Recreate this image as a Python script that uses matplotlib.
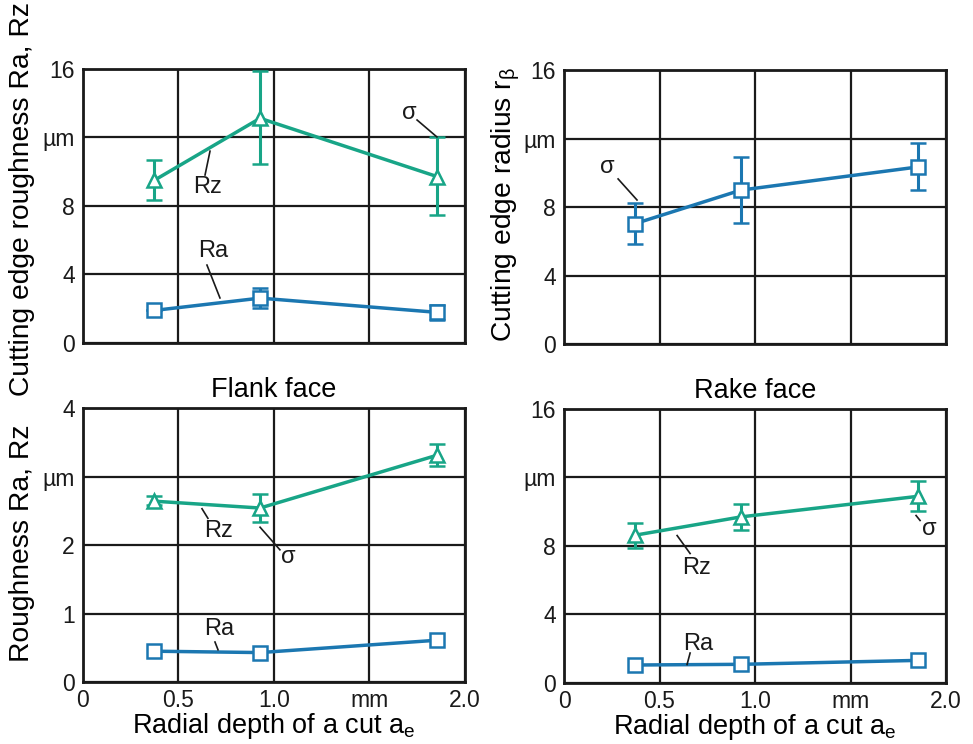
import matplotlib.pyplot as plt

plt.rcParams['font.family'] = ['Liberation Sans', 'DejaVu Sans']

GREEN = '#18a587'
BLUE = '#1b77b1'

# radial depth of cut (mm)
ae = [0.372, 0.927, 1.853]

# top left: cutting edge roughness
edge_rz = [9.49, 13.12, 9.72]
edge_rz_lo = [8.32, 10.44, 7.45]
edge_rz_hi = [10.69, 15.9, 12.01]
edge_ra = [1.9, 2.62, 1.79]
edge_ra_lo = [1.9, 2.04, 1.34]
edge_ra_hi = [1.9, 3.23, 2.22]

# top right: cutting edge radius
radius = [7.03, 8.99, 10.34]
radius_lo = [5.82, 7.07, 8.99]
radius_hi = [8.23, 10.94, 11.72]

# bottom left: flank face
flank_rz = [2.64, 2.54, 3.31]
flank_rz_lo = [2.58, 2.34, 3.15]
flank_rz_hi = [2.71, 2.75, 3.48]
flank_ra = [0.45, 0.43, 0.61]

# bottom right: rake face
rake_rz = [8.63, 9.70, 10.9]
rake_rz_lo = [7.87, 8.96, 10.05]
rake_rz_hi = [9.37, 10.43, 11.79]
rake_ra = [1.05, 1.09, 1.32]

xticks = [0, 0.5, 1.0, 1.5, 2.0]
xticklabels = ['0', '0.5', '1.0', 'mm', '2.0']
yticks_16 = [0, 4, 8, 12, 16]
yticklabels_16 = ['0', '4', '8', 'µm', '16']
yticks_4 = [0, 1, 2, 3, 4]
yticklabels_4 = ['0', '1', '2', 'µm', '4']

INK = '#1a1a1a'
LABEL_FS = 20.3


def errs(y, lo, hi):
    return [[a - b for a, b in zip(y, lo)], [b - a for a, b in zip(y, hi)]]


def series(ax, y, lo, hi, color, marker):
    kw = dict(color=color, lw=2.5, marker=marker, ms=10, mfc='white',
              mec=color, mew=1.8, zorder=3)
    if lo is None:
        ax.plot(ae, y, **kw)
    else:
        ax.errorbar(ae, y, yerr=errs(y, lo, hi), capsize=5.5, capthick=2.2,
                    elinewidth=2.2, **kw)


def setup(ax, yticks, ylabels, show_x):
    ax.set_xlim(0, 2)
    ax.set_ylim(yticks[0], yticks[-1])
    ax.set_xticks(xticks)
    ax.set_yticks(yticks)
    ax.set_yticklabels(ylabels)
    if show_x:
        ax.set_xticklabels(xticklabels)
    else:
        ax.set_xticklabels([])
    ax.tick_params(length=0, labelsize=16.5, pad=6, colors=INK)
    ax.tick_params(axis='x', pad=5)
    ax.grid(True, color=INK, lw=1.6)
    ax.set_axisbelow(True)
    for s in ax.spines.values():
        s.set_linewidth(2)
        s.set_color(INK)


def note(ax, text, pos, start, end):
    # label text with a thin leader line to the curve
    ax.text(pos[0], pos[1], text, fontsize=17, ha='center', va='center',
            color=INK)
    ax.plot([start[0], end[0]], [start[1], end[1]], color=INK, lw=1.2,
            zorder=4)


fig = plt.figure(figsize=(9.73, 7.44), dpi=100)
w, h = 0.3926, 0.3683
ax1 = fig.add_axes([0.0853, 0.539, w, h])
ax2 = fig.add_axes([0.5797, 0.5376, w, h])
ax3 = fig.add_axes([0.0853, 0.0833, w, h])
ax4 = fig.add_axes([0.5797, 0.082, w, h])

# top left
setup(ax1, yticks_16, yticklabels_16, False)
series(ax1, edge_rz, edge_rz_lo, edge_rz_hi, GREEN, '^')
series(ax1, edge_ra, edge_ra_lo, edge_ra_hi, BLUE, 's')
ax1.set_ylabel('Cutting edge roughness Ra, Rz', fontsize=LABEL_FS)
ax1.yaxis.set_label_coords(-0.126, 0.525)
note(ax1, 'Rz', (0.654, 9.1), (0.639, 9.81), (0.665, 11.2))
note(ax1, 'Ra', (0.681, 5.35), (0.649, 4.55), (0.717, 2.63))
note(ax1, 'σ', (1.707, 13.45), (1.749, 13.02), (1.853, 12.03))

# top right
setup(ax2, yticks_16, yticklabels_16, False)
series(ax2, radius, radius_lo, radius_hi, BLUE, 's')
ax2.set_ylabel('Cutting edge radius r$_\\mathregular{β}$', fontsize=LABEL_FS)
ax2.yaxis.set_label_coords(-0.11, 0.51)
note(ax2, 'σ', (0.225, 10.35), (0.283, 9.64), (0.382, 8.41))

# bottom left
setup(ax3, yticks_4, yticklabels_4, True)
series(ax3, flank_rz, flank_rz_lo, flank_rz_hi, GREEN, '^')
series(ax3, flank_ra, None, None, BLUE, 's')
ax3.set_title('Flank face', fontsize=19.5, pad=8)
ax3.set_ylabel('Roughness Ra, Rz', fontsize=LABEL_FS)
ax3.yaxis.set_label_coords(-0.126, 0.507)
ax3.set_xlabel('Radial depth of a cut a$_\\mathregular{e}$', fontsize=19.5,
               labelpad=-1)
note(ax3, 'Rz', (0.712, 2.2), (0.623, 2.53), (0.654, 2.39))
note(ax3, 'σ', (1.073, 1.82), (0.927, 2.26), (1.031, 1.93))
note(ax3, 'Ra', (0.712, 0.78), (0.691, 0.584), (0.707, 0.47))

# bottom right
setup(ax4, yticks_16, yticklabels_16, True)
series(ax4, rake_rz, rake_rz_lo, rake_rz_hi, GREEN, '^')
series(ax4, rake_ra, None, None, BLUE, 's')
ax4.set_title('Rake face', fontsize=19.5, pad=8)
ax4.set_xlabel('Radial depth of a cut a$_\\mathregular{e}$', fontsize=19.5,
               labelpad=-1)
note(ax4, 'Rz', (0.696, 6.7), (0.592, 8.61), (0.660, 7.56))
note(ax4, 'σ', (1.911, 9.0), (1.843, 9.78), (1.864, 9.49))
note(ax4, 'Ra', (0.702, 2.25), (0.660, 1.75), (0.644, 1.08))

fig.savefig('out.png', dpi=100)
